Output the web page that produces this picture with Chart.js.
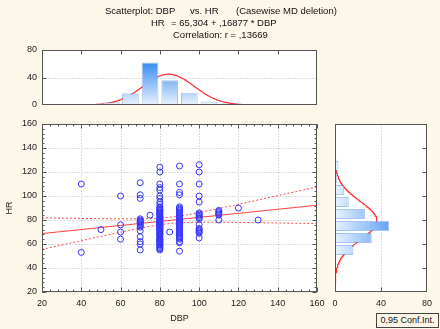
<!DOCTYPE html>
<html><head><meta charset="utf-8">
<script src="https://cdn.jsdelivr.net/npm/chart.js@4/dist/chart.umd.min.js"></script>
<style>
html,body{margin:0;padding:0;background:#fdf7ea;}
#wrap{position:relative;width:440px;height:329px;overflow:hidden;font-family:"Liberation Sans",Arial,sans-serif;color:#111;}
canvas{position:absolute;left:0;top:0;}
.t{position:absolute;font-size:9.5px;white-space:pre;line-height:12px;}
#leg{position:absolute;left:376px;top:313px;width:61px;height:13px;border:1px solid #444;font-size:9px;line-height:13px;text-align:center;background:#fdf7ea;}
</style></head><body>
<div id="wrap">
<canvas id="cTop" width="440" height="329"></canvas>
<canvas id="cRight" width="440" height="329"></canvas>
<canvas id="cMain" width="440" height="329"></canvas>
<div class="t" style="left:105px;top:5px">Scatterplot: DBP</div>
<div class="t" style="left:190px;top:5px">vs. HR</div>
<div class="t" style="left:236px;top:5px">(Casewise MD deletion)</div>
<div class="t" style="left:151px;top:17px">HR</div>
<div class="t" style="left:171px;top:17px">= 65,304 + ,16877 * DBP</div>
<div class="t" style="left:173px;top:29px">Correlation: r = ,13669</div>
<div id="leg">0,95 Conf.Int.</div>
</div>
<script>
// ---- data ----
const dbpColumns = [40, 50, 60, 70, 75, 80, 85, 90, 100, 110, 120, 130];
const hrByColumn = [
  [110, 53],
  [72],
  [100, 76, 70, 64],
  [111, 101, 98, 81, 80, 79, 78, 77, 76, 75, 74, 71, 66, 62, 60, 55, 78],
  [84],
  [124, 120, 110, 107, 105, 100, 98, 95, 93, 91, 90, 89, 88, 87, 86, 85, 84, 83, 82, 81,
   80, 80, 79, 78, 77, 76, 75, 75, 74, 73, 72, 71, 70, 70, 69, 68, 67, 66, 65, 64,
   63, 62, 61, 60, 60, 59, 58, 57, 56, 55, 80, 78, 76, 72, 68, 64, 62, 85, 88, 82, 74],
  [70],
  [125, 110, 103, 101, 91, 90, 89, 88, 87, 86, 85, 84, 83, 82, 81, 80, 79, 78, 77, 76,
   75, 74, 73, 72, 71, 70, 69, 68, 67, 66, 65, 64, 62, 61, 54],
  [126, 120, 110, 100, 95, 86, 85, 84, 83, 82, 81, 76, 73, 72, 71, 70, 69, 65],
  [88, 87, 86, 85, 84, 80],
  [90],
  [80]
];
const dbpBinCenters = [35, 45, 55, 65, 75, 85, 95, 105, 115, 125];
const dbpBinCounts  = [1, 1, 4, 17, 62, 36, 18, 5, 1, 1];
const hrBinCenters  = [55, 65, 75, 85, 95, 105, 115, 125];
const hrBinCounts   = [16, 32, 47, 26, 12, 8, 2, 3];
const mainXTicks = [20, 40, 60, 80, 100, 120, 140, 160];
const mainYTicks = [20, 40, 60, 80, 100, 120, 140, 160];
const histCountTicks = [0, 40, 80];
// fit parameters (from the title / fitted curves)
const regIntercept = 65.304, regSlope = 0.16877;
const nObs = 146, binWidth = 10;
const dbpMean = 84.5, dbpSD = 13.0, hrMean = 79.5, hrSD = 16.0;
const residSE = 15.85, tCrit = 1.976;

// ---- derived ----
const points = [];
dbpColumns.forEach((d, i) => hrByColumn[i].forEach(h => points.push({x: d, y: h})));
const sxx = (nObs - 1) * dbpSD * dbpSD;
const fitLine = [], ciUpper = [], ciLower = [];
for (let x = 20; x <= 160; x += 2) {
  const yh = regIntercept + regSlope * x;
  const se = tCrit * residSE * Math.sqrt(1 / nObs + (x - dbpMean) * (x - dbpMean) / sxx);
  fitLine.push({x, y: yh}); ciUpper.push({x, y: yh + se}); ciLower.push({x, y: yh - se});
}
function normalCurve(mean, sd) {
  const out = [];
  for (let v = mean - 3.3 * sd; v <= mean + 3.3 * sd; v += 0.5) {
    const z = (v - mean) / sd;
    out.push({v, c: nObs * binWidth * Math.exp(-0.5 * z * z) / (sd * Math.sqrt(2 * Math.PI))});
  }
  return out;
}
const topCurve = normalCurve(dbpMean, dbpSD).map(p => ({x: p.v, y: p.c}));
const rightCurve = normalCurve(hrMean, hrSD).map(p => ({x: p.c, y: p.v}));

Chart.defaults.font.family = '"Liberation Sans", Arial, sans-serif';
Chart.defaults.font.size = 9;
Chart.defaults.color = '#1a1a1a';

const framePlugin = {
  id: 'frame',
  beforeDatasetsDraw(chart, args, o) {
    const {ctx, chartArea: a, scales} = chart;
    ctx.save();
    ctx.fillStyle = '#ffffff';
    ctx.fillRect(a.left, a.top, a.right - a.left, a.bottom - a.top);
    ctx.strokeStyle = '#dcdcdc'; ctx.lineWidth = 1; ctx.setLineDash([2, 1]);
    (o.gridX || []).forEach(v => { const p = Math.round(scales.x.getPixelForValue(v)) + 0.5;
      ctx.beginPath(); ctx.moveTo(p, a.top); ctx.lineTo(p, a.bottom); ctx.stroke(); });
    (o.gridY || []).forEach(v => { const p = Math.round(scales.y.getPixelForValue(v)) + 0.5;
      ctx.beginPath(); ctx.moveTo(a.left, p); ctx.lineTo(a.right, p); ctx.stroke(); });
    ctx.restore();
  },
  afterDatasetsDraw(chart, args, o) {
    const {ctx, chartArea: a, scales} = chart;
    ctx.save();
    ctx.strokeStyle = '#555'; ctx.lineWidth = 1;
    const L = Math.round(a.left) + 0.5, R = Math.round(a.right) - 0.5, T = Math.round(a.top) + 0.5, B = Math.round(a.bottom) - 0.5;
    ctx.strokeRect(L, T, R - L, B - T);
    const tk = (list, len, sides, axis) => (list || []).forEach(v => {
      const p = Math.round(scales[axis].getPixelForValue(v)) + 0.5;
      ctx.beginPath();
      if (axis === 'x') {
        if (sides.includes('t')) { ctx.moveTo(p, T); ctx.lineTo(p, T + len); }
        if (sides.includes('b')) { ctx.moveTo(p, B); ctx.lineTo(p, B - len); }
      } else {
        if (sides.includes('l')) { ctx.moveTo(L, p); ctx.lineTo(L + len, p); }
        if (sides.includes('r')) { ctx.moveTo(R, p); ctx.lineTo(R - len, p); }
      }
      ctx.stroke();
    });
    tk(o.xMajor, 4, o.xSides || '', 'x'); tk(o.xMinor, 2, o.xSides || '', 'x');
    tk(o.yMajor, 4, o.ySides || '', 'y'); tk(o.yMinor, 2, o.ySides || '', 'y');
    ctx.restore();
  }
};

function gradV(ctx) {
  const a = ctx.chart.chartArea; if (!a) return '#9cc6f6';
  const g = ctx.chart.ctx.createLinearGradient(0, a.bottom, 0, a.top);
  g.addColorStop(0, '#e8f2fd'); g.addColorStop(1, '#066ced'); return g;
}
function gradH(ctx) {
  const a = ctx.chart.chartArea; if (!a) return '#9cc6f6';
  const g = ctx.chart.ctx.createLinearGradient(a.left, 0, a.right, 0);
  g.addColorStop(0, '#e8f2fd'); g.addColorStop(1, '#066ced'); return g;
}
const minorOf = (lo, hi, step) => { const r = []; for (let v = lo; v <= hi; v += step) r.push(v); return r; };
const noGrid = {display: false, drawTicks: false};

new Chart(document.getElementById('cMain'), {
  type: 'scatter',
  data: {datasets: [
    {data: points, pointRadius: 3, pointBorderColor: '#3535ff', pointBackgroundColor: 'rgba(0,0,0,0)', pointBorderWidth: 1, showLine: false},
    {type: 'line', data: fitLine, borderColor: '#ff3a3a', borderWidth: 1, pointRadius: 0, showLine: true},
    {type: 'line', data: ciUpper, borderColor: '#ff4a4a', borderWidth: 1, borderDash: [2, 2], pointRadius: 0, showLine: true},
    {type: 'line', data: ciLower, borderColor: '#ff4a4a', borderWidth: 1, borderDash: [2, 2], pointRadius: 0, showLine: true}
  ]},
  options: {
    responsive: false, animation: false, devicePixelRatio: 1,
    layout: {padding: {left: 0, top: 124, right: 123, bottom: 0}},
    plugins: {legend: {display: false}, tooltip: {enabled: false},
      frame: {gridX: [40, 60, 80, 100, 120, 140], gridY: [40, 60, 80, 100, 120, 140],
        xMajor: mainXTicks, xMinor: minorOf(20, 160, 4), xSides: 'tb',
        yMajor: mainYTicks, yMinor: minorOf(20, 160, 4), ySides: 'lr'}},
    scales: {
      x: {type: 'linear', min: 20, max: 160, afterBuildTicks: s => { s.ticks = mainXTicks.map(v => ({value: v})); },
          ticks: {padding: 6}, grid: noGrid, border: {display: false},
          title: {display: true, text: 'DBP', font: {size: 9}, padding: {top: 0, bottom: 5}},
          afterFit: s => { s.height = 37; }},
      y: {type: 'linear', min: 20, max: 160, afterBuildTicks: s => { s.ticks = mainYTicks.map(v => ({value: v})); },
          ticks: {padding: 5}, grid: noGrid, border: {display: false},
          title: {display: true, text: 'HR', font: {size: 9}, padding: {top: 4, bottom: 0}},
          afterFit: s => { s.width = 42; }}
    }
  },
  plugins: [framePlugin]
});

new Chart(document.getElementById('cTop'), {
  type: 'bar',
  data: {datasets: [
    {type: 'bar', data: dbpBinCenters.map((x, i) => ({x, y: dbpBinCounts[i]})), backgroundColor: gradV,
     borderColor: 'rgba(90,150,230,0.55)', borderWidth: 1, barPercentage: 0.85, categoryPercentage: 1},
    {type: 'line', data: topCurve, borderColor: '#ff2a2a', borderWidth: 1.2, pointRadius: 0, tension: 0}
  ]},
  options: {
    responsive: false, animation: false, devicePixelRatio: 1,
    layout: {padding: {left: 0, top: 50, right: 123, bottom: 224}},
    plugins: {legend: {display: false}, tooltip: {enabled: false},
      frame: {gridY: [40], xMajor: [40, 60, 80, 100, 120, 140], xSides: 't', yMajor: [40], ySides: 'l'}},
    scales: {
      x: {type: 'linear', min: 20, max: 160, display: false, offset: false},
      y: {type: 'linear', min: 0, max: 80, afterBuildTicks: s => { s.ticks = histCountTicks.map(v => ({value: v})); },
          ticks: {padding: 5}, grid: noGrid, border: {display: false}, afterFit: s => { s.width = 42; }}
    }
  },
  plugins: [framePlugin]
});

new Chart(document.getElementById('cRight'), {
  type: 'bar',
  data: {datasets: [
    {type: 'bar', indexAxis: 'y', data: hrBinCenters.map((y, i) => ({x: hrBinCounts[i], y})), backgroundColor: gradH,
     borderColor: 'rgba(90,150,230,0.55)', borderWidth: 1, barPercentage: 0.85, categoryPercentage: 1},
    {type: 'line', indexAxis: 'y', data: rightCurve, borderColor: '#ff2a2a', borderWidth: 1.2, pointRadius: 0, tension: 0}
  ]},
  options: {
    indexAxis: 'y',
    responsive: false, animation: false, devicePixelRatio: 1,
    layout: {padding: {left: 335, top: 124, right: 13, bottom: 0}},
    plugins: {legend: {display: false}, tooltip: {enabled: false},
      frame: {gridX: [40], xMajor: [40], xSides: 'b', yMajor: [40, 60, 80, 100, 120, 140], ySides: 'r'}},
    scales: {
      x: {type: 'linear', min: 0, max: 80, afterBuildTicks: s => { s.ticks = histCountTicks.map(v => ({value: v})); },
          ticks: {padding: 6}, grid: noGrid, border: {display: false}, afterFit: s => { s.height = 37; }},
      y: {type: 'linear', min: 20, max: 160, display: false, offset: false}
    }
  },
  plugins: [framePlugin]
});
</script>
</body></html>
